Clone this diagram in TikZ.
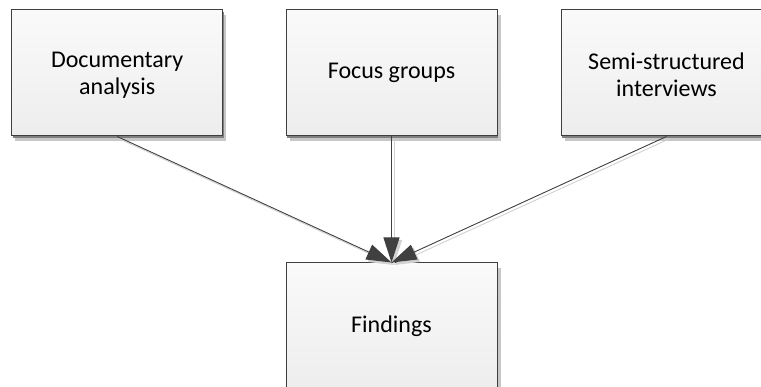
\documentclass[tikz,border=0pt]{standalone}
\usepackage{fontspec}
\setmainfont{Carlito}
\usetikzlibrary{arrows.meta}
\definecolor{edge}{HTML}{3F3F3F}
\definecolor{tipfill}{HTML}{404040}
% extra room above the first of two lines, so the pair sits a little lower
\newcommand{\upperroom}{\rule{0pt}{20pt}}
\begin{document}
\begin{tikzpicture}[x=1pt,y=-1pt,
  source/.style={draw=edge, line width=1pt, minimum width=211pt, minimum height=126pt,
    inner sep=0pt, align=center, top color=white!98!black, bottom color=white!93!black,
    font=\fontsize{24}{27.5}\selectfont, text=black},
  shadowbox/.style={fill=black!22, draw=none, minimum width=211pt, minimum height=126pt, inner sep=0pt},
  darkshadow/.style={fill=black!50, draw=none, minimum width=211pt, minimum height=126pt, inner sep=0pt},
  link/.style={draw=edge, line width=0.9pt, -{Triangle[length=25pt,width=16pt,fill=tipfill]}},
  linkshadow/.style={draw=black!18, line width=0.9pt, -{Triangle[length=25pt,width=16pt,fill=black!18]}}
]
\useasboundingbox (0,0) rectangle (761,387);
\clip (0,0) rectangle (761,387);

% shadows behind the boxes
\foreach \cx/\cy in {117.2/73, 391.5/73, 666.5/73, 391.5/326}{
  \node[shadowbox] at (\cx+3.5,\cy+5) {};
  \node[darkshadow] at (\cx+1,\cy+2) {};
}

% boxes
\node[source] (doc) at (117.2,73) {\upperroom Documentary\\analysis};
\node[source] (focus) at (391.5,73) {Focus groups};
\node[source] (semi) at (666.5,73) {\upperroom Semi-structured\\interviews};
\node[source] (find) at (391.5,326) {Findings};

% connector shadows
\begin{scope}[transform canvas={shift={(2.5pt,-2.5pt)}}]
  \draw[linkshadow] (doc.south) -- (find.north);
  \draw[linkshadow] (focus.south) -- (find.north);
  \draw[linkshadow] (semi.south) -- (find.north);
\end{scope}

% connectors
\draw[link] (doc.south) -- (find.north);
\draw[link] (focus.south) -- (find.north);
\draw[link] (semi.south) -- (find.north);
\end{tikzpicture}
\end{document}
